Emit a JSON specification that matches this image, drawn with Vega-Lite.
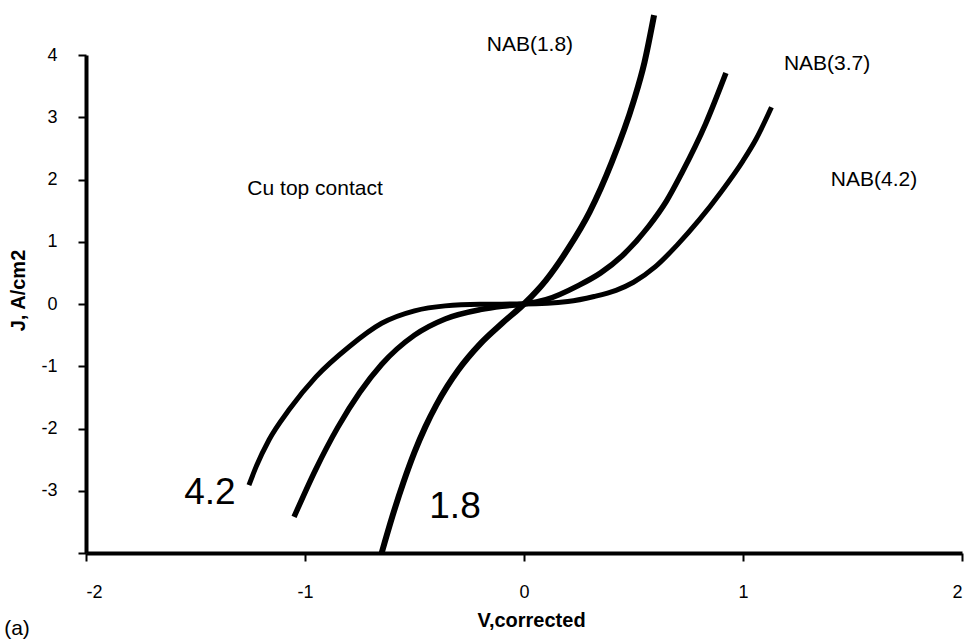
{
  "$schema": "https://vega.github.io/schema/vega-lite/v6.json",
  "width": 876,
  "height": 498,
  "autosize": {"type": "none"},
  "padding": {"left": 86, "top": 55, "right": 7, "bottom": 86},
  "background": "white",
  "config": {
    "view": {"stroke": null},
    "font": "Liberation Sans",
    "axis": {
      "grid": false,
      "domainColor": "black",
      "domainWidth": 4,
      "tickColor": "black",
      "tickWidth": 2,
      "tickSize": 8,
      "labelFont": "Liberation Sans",
      "labelFontSize": 18,
      "labelColor": "black",
      "titleFont": "Liberation Sans",
      "titleFontSize": 20,
      "titleFontWeight": "bold",
      "titleColor": "black"
    }
  },
  "datasets": {
    "curves": [
      {"series": "1.8", "v": -0.65, "j": -4.0},
      {"series": "1.8", "v": -0.6, "j": -3.4},
      {"series": "1.8", "v": -0.55, "j": -2.86},
      {"series": "1.8", "v": -0.5, "j": -2.38},
      {"series": "1.8", "v": -0.45, "j": -1.97},
      {"series": "1.8", "v": -0.4, "j": -1.62},
      {"series": "1.8", "v": -0.35, "j": -1.32},
      {"series": "1.8", "v": -0.3, "j": -1.06},
      {"series": "1.8", "v": -0.2, "j": -0.64},
      {"series": "1.8", "v": -0.1, "j": -0.31},
      {"series": "1.8", "v": 0.0, "j": 0.0},
      {"series": "1.8", "v": 0.1, "j": 0.38},
      {"series": "1.8", "v": 0.2, "j": 0.88},
      {"series": "1.8", "v": 0.3, "j": 1.48},
      {"series": "1.8", "v": 0.4, "j": 2.27},
      {"series": "1.8", "v": 0.5, "j": 3.25},
      {"series": "1.8", "v": 0.55, "j": 3.88},
      {"series": "1.8", "v": 0.594, "j": 4.64},
      {"series": "3.7", "v": -1.05, "j": -3.42},
      {"series": "3.7", "v": -0.95, "j": -2.65},
      {"series": "3.7", "v": -0.85, "j": -1.98},
      {"series": "3.7", "v": -0.75, "j": -1.42},
      {"series": "3.7", "v": -0.65, "j": -0.97},
      {"series": "3.7", "v": -0.5, "j": -0.5},
      {"series": "3.7", "v": -0.36, "j": -0.24},
      {"series": "3.7", "v": -0.2, "j": -0.09},
      {"series": "3.7", "v": -0.1, "j": -0.035},
      {"series": "3.7", "v": 0.0, "j": 0.0},
      {"series": "3.7", "v": 0.1, "j": 0.07},
      {"series": "3.7", "v": 0.25, "j": 0.3},
      {"series": "3.7", "v": 0.35, "j": 0.5},
      {"series": "3.7", "v": 0.45, "j": 0.78},
      {"series": "3.7", "v": 0.57, "j": 1.25},
      {"series": "3.7", "v": 0.65, "j": 1.65},
      {"series": "3.7", "v": 0.72, "j": 2.1},
      {"series": "3.7", "v": 0.83, "j": 2.9},
      {"series": "3.7", "v": 0.922, "j": 3.71},
      {"series": "4.2", "v": -1.256, "j": -2.91},
      {"series": "4.2", "v": -1.224, "j": -2.62},
      {"series": "4.2", "v": -1.164, "j": -2.18},
      {"series": "4.2", "v": -1.073, "j": -1.7},
      {"series": "4.2", "v": -0.95, "j": -1.17},
      {"series": "4.2", "v": -0.8, "j": -0.69},
      {"series": "4.2", "v": -0.65, "j": -0.31},
      {"series": "4.2", "v": -0.5, "j": -0.11},
      {"series": "4.2", "v": -0.36, "j": -0.03},
      {"series": "4.2", "v": -0.2, "j": -0.005},
      {"series": "4.2", "v": 0.0, "j": 0.0},
      {"series": "4.2", "v": 0.2, "j": 0.04},
      {"series": "4.2", "v": 0.32, "j": 0.12},
      {"series": "4.2", "v": 0.42, "j": 0.22},
      {"series": "4.2", "v": 0.5, "j": 0.35},
      {"series": "4.2", "v": 0.6, "j": 0.6},
      {"series": "4.2", "v": 0.7, "j": 0.95},
      {"series": "4.2", "v": 0.8, "j": 1.35},
      {"series": "4.2", "v": 0.9, "j": 1.8},
      {"series": "4.2", "v": 1.0, "j": 2.3},
      {"series": "4.2", "v": 1.06, "j": 2.65},
      {"series": "4.2", "v": 1.13, "j": 3.16}
    ],
    "labels": [
      {"text": "NAB(1.8)", "v": 0.027, "j": 4.16},
      {"text": "NAB(3.7)", "v": 1.384, "j": 3.86},
      {"text": "NAB(4.2)", "v": 1.598, "j": 1.99},
      {"text": "Cu top contact", "v": -0.954, "j": 1.85},
      {"text": "(a)", "v": -2.315, "j": -5.22}
    ],
    "big": [
      {"text": "4.2", "v": -1.434, "j": -3.04},
      {"text": "1.8", "v": -0.315, "j": -3.26}
    ]
  },
  "layer": [
    {
      "data": {"name": "curves"},
      "mark": {"type": "line", "color": "black", "interpolate": "monotone", "strokeCap": "butt"},
      "encoding": {
        "x": {
          "field": "v", "type": "quantitative",
          "scale": {"domain": [-2, 2], "nice": false, "zero": false},
          "axis": {
            "values": [-2, -1, 0, 1, 2],
            "labelExpr": "'' + datum.value",
            "title": "V,corrected",
            "labelPadding": 22,
            "titleX": 445,
            "titleY": 67,
            "titleAlign": "center",
            "titleBaseline": "middle"
          }
        },
        "y": {
          "field": "j", "type": "quantitative",
          "scale": {"domain": [-4, 4], "nice": false, "zero": false},
          "axis": {
            "values": [-4, -3, -2, -1, 0, 1, 2, 3, 4],
            "labelExpr": "datum.value == -4 ? '' : '' + datum.value",
            "title": "J, A/cm2",
            "labelPadding": 21,
            "titleX": -68,
            "titleY": 235,
            "titleAlign": "center",
            "titleBaseline": "middle",
            "titleAngle": -90
          }
        },
        "detail": {"field": "series"},
        "strokeWidth": {
          "field": "series", "type": "nominal",
          "scale": {"domain": ["1.8", "3.7", "4.2"], "range": [6, 5, 4.5]},
          "legend": null
        }
      }
    },
    {
      "data": {"name": "labels"},
      "mark": {"type": "text", "fontSize": 21, "font": "Liberation Sans", "color": "black", "align": "center", "baseline": "middle"},
      "encoding": {
        "x": {"field": "v", "type": "quantitative"},
        "y": {"field": "j", "type": "quantitative"},
        "text": {"field": "text"}
      }
    },
    {
      "data": {"name": "big"},
      "mark": {"type": "text", "fontSize": 37, "font": "Liberation Sans", "color": "black", "align": "center", "baseline": "middle"},
      "encoding": {
        "x": {"field": "v", "type": "quantitative"},
        "y": {"field": "j", "type": "quantitative"},
        "text": {"field": "text"}
      }
    }
  ]
}
